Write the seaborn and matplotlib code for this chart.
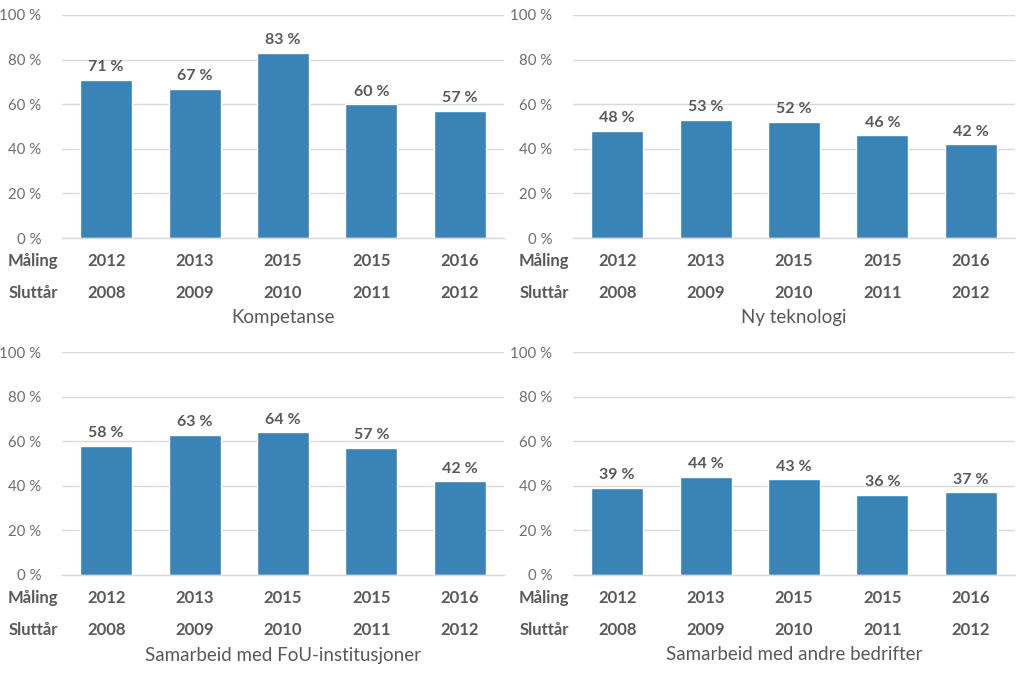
import matplotlib
matplotlib.use("Agg")
import matplotlib.pyplot as plt
import seaborn as sns
import pandas as pd

maling = ["2012", "2013", "2015", "2015", "2016"]
sluttar = ["2008", "2009", "2010", "2011", "2012"]
titles = ["Kompetanse", "Ny teknologi", "Samarbeid med FoU-institusjoner", "Samarbeid med andre bedrifter"]
kompetanse = [71, 67, 83, 60, 57]
ny_teknologi = [48, 53, 52, 46, 42]
fou = [58, 63, 64, 57, 42]
andre = [39, 44, 43, 36, 37]
yticks = [0, 20, 40, 60, 80, 100]

series = [kompetanse, ny_teknologi, fou, andre]

sns.set_theme(style="white")
plt.rcParams['font.family'] = ['Lato', 'DejaVu Sans']

BAR = "#3A83B7"
GRAY = "#595959"
TICKGRAY = "#6E6E6E"
GRID = "#D9D9D9"

fig = plt.figure(figsize=(10.24, 6.73), dpi=100)
W, H = 1024, 673
positions = [(62, 238), (573, 238), (62, 575), (573, 575)]
aw, ah = 442, 223

for i, (vals, title) in enumerate(zip(series, titles)):
    x0, y0 = positions[i]
    ax = fig.add_axes([x0 / W, (H - y0) / H, aw / W, ah / H])
    cats = [f"{m}-{s}" for m, s in zip(maling, sluttar)]
    df = pd.DataFrame({"cat": cats, "val": vals})
    sns.barplot(data=df, x="cat", y="val", color=BAR, saturation=1, width=0.59, ax=ax)
    ax.set_ylim(0, 100)
    ax.set_xlim(-0.5, len(cats) - 0.5)
    ax.set_yticks(yticks)
    ax.set_yticklabels([f"{t} %" for t in yticks], color=TICKGRAY, fontsize=10.8)
    ax.tick_params(axis="y", length=0, pad=15)
    ax.set_xticks([])
    ax.set_xlabel("")
    ax.set_ylabel("")
    ax.yaxis.grid(True, color=GRID, linewidth=1)
    ax.set_axisbelow(True)
    for s in ["top", "right", "left"]:
        ax.spines[s].set_visible(False)
    ax.spines["bottom"].set_color(GRID)
    ax.spines["bottom"].set_linewidth(1)
    for p, v in zip(ax.patches, vals):
        ax.annotate(f"{v} %", (p.get_x() + p.get_width() / 2, p.get_height()),
                    xytext=(0, 4), textcoords="offset points", ha="center", va="bottom",
                    fontsize=11.5, fontweight="bold", color=GRAY)
    tr = ax.get_xaxis_transform()
    for j, (m, s) in enumerate(zip(maling, sluttar)):
        ax.text(j, -23 / ah, m, transform=tr, ha="center", va="center",
                fontsize=12, fontweight="bold", color=GRAY)
        ax.text(j, -55 / ah, s, transform=tr, ha="center", va="center",
                fontsize=12, fontweight="bold", color=GRAY)
    ax.text(-4 / aw, -23 / ah, "Måling", transform=ax.transAxes, ha="right", va="center",
            fontsize=12, fontweight="bold", color=GRAY)
    ax.text(-4 / aw, -55 / ah, "Sluttår", transform=ax.transAxes, ha="right", va="center",
            fontsize=12, fontweight="bold", color=GRAY)
    ax.text(0.5, -80 / ah, title, transform=ax.transAxes, ha="center", va="center",
            fontsize=13.5, color=GRAY)

fig.savefig("out.png", dpi=100, facecolor="white")
